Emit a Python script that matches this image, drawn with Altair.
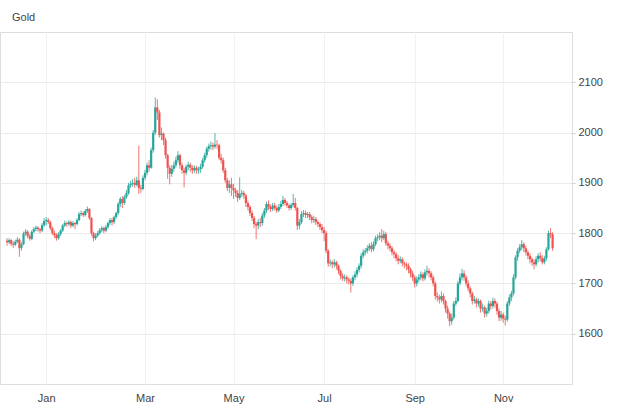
import altair as alt
import pandas as pd

title_text = "Gold"

opens = [
    1785, 1782, 1786, 1779, 1777, 1783, 1787, 1771, 1778, 1799, 1803, 1794, 1789, 1803, 1808, 1811, 1808, 1805, 1816,
    1824, 1826, 1822, 1810, 1800, 1796, 1790, 1798, 1805, 1815, 1820, 1818, 1822, 1815, 1820, 1818, 1826, 1838, 1840, 1836,
    1844, 1848, 1830, 1800, 1790, 1795, 1800, 1806, 1810, 1805, 1812, 1820, 1826, 1822, 1832, 1840, 1858, 1868, 1860, 1872,
    1880, 1895, 1898, 1900, 1896, 1905, 1890, 1888,
    1910, 1920, 1935, 1930, 1965, 2000, 2050, 2040, 1995, 1998, 1985, 1955, 1930, 1918, 1928, 1935, 1945, 1955, 1935, 1925,
    1920, 1932, 1936, 1930, 1925, 1930, 1925, 1927, 1932, 1945, 1955, 1968, 1973, 1975, 1972, 1976, 1975, 1950, 1945, 1925,
    1905, 1890, 1897,
    1890, 1885, 1880, 1870, 1878, 1880, 1875, 1860, 1852, 1840, 1830, 1818, 1815, 1822, 1820, 1835, 1845, 1858, 1852, 1848,
    1855, 1850, 1845, 1852, 1858, 1866, 1860, 1855, 1850, 1856, 1860, 1850, 1815, 1822, 1838, 1840, 1836, 1838, 1832, 1826,
    1828, 1822, 1818, 1812,
    1806, 1800, 1765, 1740, 1742, 1738, 1742, 1735, 1725, 1715, 1710, 1712, 1708, 1705, 1700, 1712, 1718, 1727, 1735, 1755,
    1762, 1765, 1770, 1775, 1768, 1778, 1790, 1792, 1795, 1790, 1798, 1780, 1775, 1770, 1762, 1758, 1750, 1745, 1748, 1740,
    1738, 1735, 1728, 1720,
    1712, 1700, 1708, 1712, 1718, 1710, 1722, 1725, 1720, 1712, 1700, 1675, 1672, 1668, 1675, 1665, 1650, 1640, 1625, 1632,
    1660, 1665, 1700, 1712, 1720, 1712, 1700, 1690, 1680, 1665, 1668, 1660, 1665, 1650, 1652, 1640, 1645, 1660, 1655, 1665,
    1660, 1645, 1632,
    1638, 1630, 1628, 1660, 1672, 1680, 1712, 1752, 1765, 1772, 1778, 1770, 1762, 1755, 1748, 1742, 1738, 1748, 1755, 1750,
    1742, 1750, 1768, 1800, 1798,
]

highs = [
    1790, 1790, 1788, 1784, 1787, 1792, 1790, 1782, 1803, 1808, 1806, 1798, 1806, 1812, 1815, 1814, 1810, 1820, 1830,
    1832, 1830, 1825, 1813, 1805, 1800, 1802, 1808, 1818, 1825, 1823, 1826, 1825, 1824, 1822, 1830, 1842, 1845, 1843, 1848,
    1853, 1850, 1832, 1803, 1800, 1804, 1810, 1814, 1813, 1816, 1823, 1830, 1830, 1835, 1843, 1862, 1872, 1874, 1876, 1886,
    1900, 1904, 1908, 1910, 1912, 1974, 1896, 1915,
    1926, 1940, 1945, 1970, 2005, 2070, 2066, 2045, 2010, 2000, 1990, 1958, 1935, 1935, 1942, 1952, 1963, 1958, 1940, 1930,
    1936, 1942, 1940, 1935, 1935, 1934, 1932, 1938, 1950, 1960, 1972, 1978, 1982, 1980, 1999, 1985, 1978, 1958, 1950, 1930,
    1910, 1905, 1910,
    1898, 1890, 1886, 1911, 1886, 1884, 1878, 1865, 1856, 1845, 1834, 1822, 1828, 1830, 1840, 1850, 1863, 1865, 1857, 1860,
    1860, 1855, 1858, 1864, 1874, 1870, 1864, 1858, 1860, 1878, 1870, 1852, 1828, 1844, 1846, 1845, 1842, 1842, 1836, 1834,
    1832, 1826, 1822, 1818,
    1812, 1804, 1768, 1748, 1746, 1748, 1745, 1738, 1728, 1720, 1718, 1716, 1712, 1710, 1716, 1724, 1732, 1740, 1760, 1768,
    1770, 1776, 1780, 1782, 1784, 1795, 1798, 1802, 1808, 1805, 1802, 1785, 1780, 1774, 1766, 1762, 1756, 1754, 1752, 1744,
    1742, 1740, 1732, 1725,
    1716, 1714, 1718, 1724, 1722, 1728, 1735, 1730, 1724, 1716, 1704, 1682, 1678, 1684, 1680, 1668, 1656, 1644, 1640, 1665,
    1672, 1705, 1720, 1729, 1726, 1716, 1706, 1694, 1684, 1675, 1672, 1670, 1668, 1660, 1656, 1652, 1666, 1665, 1672, 1670,
    1664, 1650, 1645,
    1642, 1636, 1665, 1678, 1685, 1718, 1756, 1770, 1778, 1786, 1782, 1775, 1766, 1760, 1752, 1748, 1754, 1760, 1762, 1756,
    1755, 1772, 1805, 1810, 1802,
]

lows = [
    1775, 1778, 1774, 1770, 1774, 1780, 1753, 1765, 1776, 1795, 1790, 1785, 1786, 1800, 1804, 1803, 1800, 1802, 1812,
    1815, 1818, 1806, 1796, 1790, 1785, 1787, 1794, 1802, 1812, 1813, 1814, 1810, 1812, 1808, 1815, 1824, 1834, 1832, 1833,
    1840, 1826, 1795, 1784, 1786, 1792, 1797, 1802, 1800, 1802, 1808, 1816, 1815, 1818, 1828, 1836, 1852, 1850, 1856, 1868,
    1876, 1890, 1892, 1890, 1893, 1878, 1880, 1885,
    1905, 1915, 1922, 1928, 1960, 1995, 2025, 1990, 1985, 1975, 1948, 1908, 1897, 1912, 1922, 1930, 1940, 1928, 1918, 1891,
    1915, 1925, 1922, 1918, 1920, 1918, 1918, 1920, 1928, 1940, 1950, 1962, 1966, 1965, 1968, 1968, 1945, 1938, 1920, 1900,
    1884, 1880, 1874,
    1868, 1872, 1862, 1866, 1872, 1868, 1852, 1845, 1834, 1824, 1810, 1788, 1808, 1812, 1815, 1830, 1840, 1846, 1842, 1844,
    1845, 1840, 1842, 1848, 1854, 1855, 1850, 1845, 1846, 1852, 1845, 1806, 1808, 1818, 1832, 1830, 1830, 1826, 1820, 1820,
    1816, 1812, 1806, 1800,
    1784, 1760, 1733, 1734, 1730, 1732, 1728, 1718, 1708, 1705, 1704, 1700, 1698, 1682, 1695, 1706, 1712, 1722, 1730, 1750,
    1756, 1760, 1765, 1762, 1764, 1774, 1784, 1786, 1782, 1786, 1775, 1768, 1764, 1756, 1750, 1744, 1738, 1740, 1734, 1730,
    1726, 1720, 1712, 1705,
    1692, 1694, 1702, 1706, 1704, 1706, 1716, 1712, 1706, 1694, 1668, 1664, 1660, 1662, 1658, 1642, 1630, 1615, 1618, 1628,
    1655, 1662, 1696, 1706, 1705, 1694, 1684, 1672, 1658, 1660, 1652, 1654, 1642, 1644, 1632, 1634, 1640, 1648, 1650, 1652,
    1638, 1625, 1626,
    1622, 1616, 1624, 1655, 1665, 1676, 1708, 1745, 1760, 1766, 1762, 1756, 1748, 1740, 1735, 1728, 1734, 1742, 1744, 1738,
    1738, 1745, 1765, 1790, 1765,
]

closes = [
    1782, 1786, 1779, 1777, 1783, 1787, 1770, 1778, 1799, 1803, 1794, 1789, 1803, 1808, 1811, 1808, 1805, 1816, 1824,
    1826, 1822, 1810, 1800, 1796, 1790, 1798, 1805, 1815, 1820, 1818, 1822, 1815, 1820, 1818, 1826, 1838, 1840, 1836, 1844,
    1848, 1830, 1800, 1790, 1795, 1800, 1806, 1810, 1805, 1812, 1820, 1826, 1822, 1832, 1840, 1858, 1868, 1860, 1872, 1880,
    1895, 1898, 1900, 1896, 1905, 1890, 1888, 1910,
    1920, 1935, 1930, 1965, 2000, 2050, 2040, 1995, 1998, 1985, 1955, 1930, 1918, 1928, 1935, 1945, 1955, 1935, 1925, 1920,
    1932, 1936, 1930, 1925, 1930, 1925, 1927, 1932, 1945, 1955, 1968, 1973, 1975, 1972, 1976, 1975, 1950, 1945, 1925, 1905,
    1890, 1897, 1890,
    1885, 1880, 1870, 1878, 1880, 1875, 1860, 1852, 1840, 1830, 1818, 1815, 1822, 1820, 1835, 1845, 1858, 1852, 1848, 1855,
    1850, 1845, 1852, 1858, 1866, 1860, 1855, 1850, 1856, 1860, 1850, 1815, 1822, 1838, 1840, 1836, 1838, 1832, 1826, 1828,
    1822, 1818, 1812, 1806,
    1800, 1765, 1740, 1742, 1738, 1742, 1735, 1725, 1715, 1710, 1712, 1708, 1705, 1700, 1712, 1718, 1727, 1735, 1755, 1762,
    1765, 1770, 1775, 1768, 1778, 1790, 1792, 1795, 1790, 1798, 1780, 1775, 1770, 1762, 1758, 1750, 1745, 1748, 1740, 1738,
    1735, 1728, 1720, 1712,
    1700, 1708, 1712, 1718, 1710, 1722, 1725, 1720, 1712, 1700, 1675, 1672, 1668, 1675, 1665, 1650, 1640, 1625, 1632, 1660,
    1665, 1700, 1712, 1720, 1712, 1700, 1690, 1680, 1665, 1668, 1660, 1665, 1650, 1652, 1640, 1645, 1660, 1655, 1665, 1660,
    1645, 1632, 1638,
    1630, 1628, 1660, 1672, 1680, 1712, 1752, 1765, 1772, 1778, 1770, 1762, 1755, 1748, 1742, 1738, 1748, 1755, 1750, 1742,
    1750, 1768, 1800, 1798, 1770,
]

# slot position of the first candle of each labelled month
month_ticks = [20, 68, 111, 155, 199, 242]
month_labels = ["Jan", "Mar", "May", "Jul", "Sep", "Nov"]
price_ticks = [1600, 1700, 1800, 1900, 2000, 2100]

n = len(closes)
df = pd.DataFrame({
    "slot": list(range(1, n + 1)),
    "open": opens,
    "high": highs,
    "low": lows,
    "close": closes,
})

UP = "#26a69a"
DOWN = "#ef5350"

label_expr = (
    "[" + ",".join("'" + m + "'" for m in month_labels) + "]"
    + "[indexof([" + ",".join(str(t) for t in month_ticks) + "], datum.value)]"
)

x_enc = alt.X(
    "slot:Q",
    scale=alt.Scale(domain=[0, 273], nice=False, zero=False),
    axis=alt.Axis(
        values=month_ticks,
        labelExpr=label_expr,
        title=None,
        orient="bottom",
        domain=False,
        ticks=False,
        labelPadding=8,
        labelFontSize=11,
        labelColor="#444444",
        labelFont="Liberation Sans",
        grid=True,
        gridColor="#eef3f5",
    ),
)

y_scale = alt.Scale(domain=[1500, 2200], nice=False, zero=False)
y_axis = alt.Axis(
    values=price_ticks,
    format="d",
    orient="right",
    title=None,
    domain=False,
    tickSize=3,
    tickColor="#d0d0d0",
    labelPadding=3,
    labelFontSize=11,
    labelColor="#444444",
    labelFont="Liberation Sans",
    grid=True,
    gridColor="#ebebeb",
)

color = alt.condition("datum.open <= datum.close", alt.value(UP), alt.value(DOWN))

base = alt.Chart(df)

wicks = base.mark_rule(strokeWidth=1, opacity=0.8).encode(
    x=x_enc,
    y=alt.Y("low:Q", scale=y_scale, axis=y_axis),
    y2="high:Q",
    color=color,
)

bodies = base.mark_bar(size=2.2).encode(
    x=alt.X("slot:Q"),
    y=alt.Y("open:Q"),
    y2="close:Q",
    color=color,
)

chart = (
    alt.layer(wicks, bodies)
    .properties(
        width=572,
        height=352,
        autosize=alt.AutoSizeParams(type="none"),
        padding={"left": 0, "top": 32, "right": 47, "bottom": 23},
        title=alt.TitleParams(
            title_text,
            anchor="start",
            dx=12,
            offset=9,
            fontSize=11,
            fontWeight="normal",
            color="#444444",
            font="Liberation Sans",
        ),
    )
    .configure_view(stroke="#e6e6e6", strokeWidth=1)
    .configure(background="white")
)

chart.save("out.html", embed_options={"renderer": "svg", "actions": False})
